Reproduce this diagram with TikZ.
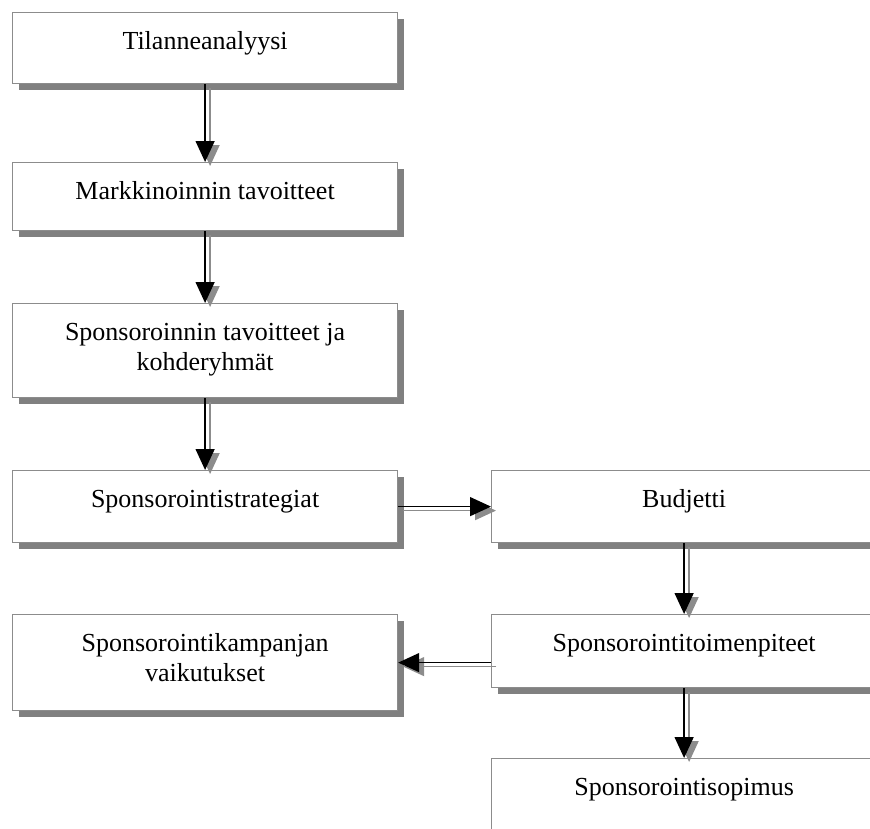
\documentclass[tikz,border=0pt]{standalone}
\usepackage{fontspec}
\setmainfont{Liberation Serif}
\usetikzlibrary{arrows.meta, positioning, shadows}

\tikzset{
  stage/.style={draw=black!45, line width=1.2pt, fill=white, minimum width=385pt,
    inner ysep=0pt, text height=37pt, align=center,
    font=\fontsize{26}{30}\selectfont,
    drop shadow={shadow xshift=6pt, shadow yshift=-6pt, fill=black!50, opacity=1}},
  flow/.style={line width=1.4pt, -{Triangle[length=21pt,width=19pt]}},
  flowshadow/.style={draw=black!45, line width=1.4pt, -{Triangle[length=21pt,width=19pt]},
    transform canvas={xshift=5pt, yshift=-4pt}}
}

\begin{document}
\begin{tikzpicture}[x=1pt, y=-1pt]
  \useasboundingbox (0,0) rectangle (870,828);

  % vasen sarake
  \node[stage, anchor=north west, text depth=34pt] (tilanne) at (12,12) {Tilanneanalyysi};
  \node[stage, anchor=north west, text depth=31pt] (markk) at (12,162) {Markkinoinnin tavoitteet};
  \node[stage, anchor=north west, text height=67pt, text depth=27pt] (tavoit) at (12,303) {Sponsoroinnin tavoitteet ja\\kohderyhmät};
  \node[stage, anchor=north west, text depth=35pt] (strat) at (12,470) {Sponsorointistrategiat};
  \node[stage, anchor=north west, text height=67pt, text depth=29pt] (vaikut) at (12,614) {Sponsorointikampanjan\\vaikutukset};

  % oikea sarake
  \node[stage, anchor=north west, text depth=35pt] (budj) at (491,470) {Budjetti};
  \node[stage, anchor=north west, text depth=36pt] (toimen) at (491,614) {Sponsorointitoimenpiteet};
  \node[stage, anchor=north west, text depth=58pt] (sopimus) at (491,758) {Sponsorointisopimus};

  % nuolet
  \foreach \a/\b in {tilanne.south/markk.north, markk.south/tavoit.north,
      tavoit.south/strat.north, strat.east/budj.west, budj.south/toimen.north,
      toimen.west |- vaikut.east/vaikut.east, toimen.south/sopimus.north}
  {
    \draw[flowshadow, fill=black!50] (\a) -- (\b);
    \draw[flow] (\a) -- (\b);
  }
\end{tikzpicture}
\end{document}
